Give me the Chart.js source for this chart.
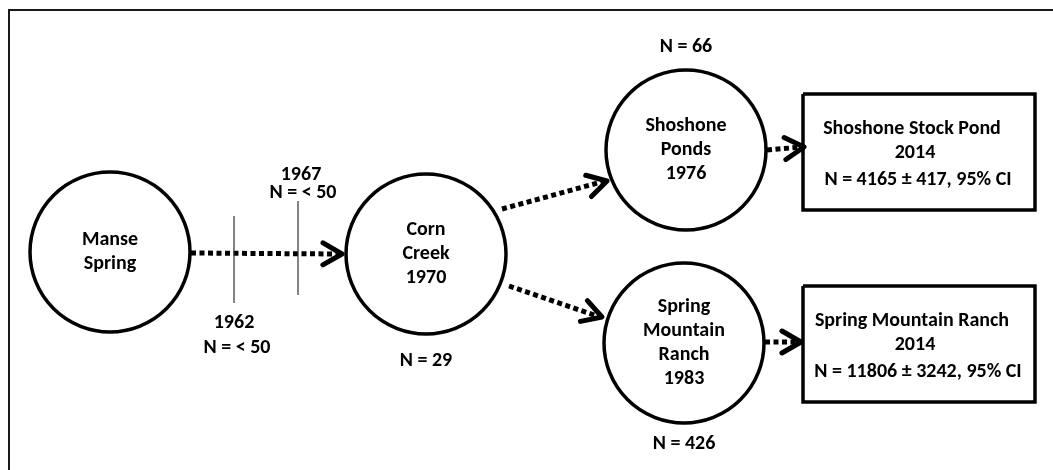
<!DOCTYPE html>
<html>
<head>
<meta charset="utf-8">
<script src="https://cdn.jsdelivr.net/npm/chart.js@4.4.1/dist/chart.umd.min.js"></script>
<style>
  html, body { margin: 0; padding: 0; background: #fff; }
  #wrap { width: 1053px; height: 470px; }
</style>
</head>
<body>
<div id="wrap"><canvas id="flowChart" width="1053" height="470"></canvas></div>
<script>
// Population nodes (circles): label lines, centre, radius, count label
const nodeLabels = [['Manse', 'Spring'], ['Corn', 'Creek', '1970'], ['Shoshone', 'Ponds', '1976'], ['Spring', 'Mountain', 'Ranch', '1983']];
const nodeX = [110, 426, 686, 684];
const nodeY = [252, 254, 150, 343];
const nodeR = [80, 80, 80, 80];
const nodeCounts = ['', 'N = 29', 'N = 66', 'N = 426'];
const nodeCountY = [0, 361, 47, 444];

// 2014 survey boxes
const boxTitles = ['Shoshone Stock Pond', 'Spring Mountain Ranch'];
const boxYears = ['2014', '2014'];
const boxEstimates = ['N = 4165 \u00b1 417, 95% CI', 'N = 11806 \u00b1 3242, 95% CI'];
const boxLeft = [803, 803];
const boxRight = [1035, 1035];
const boxTop = [94, 286];
const boxBottom = [210, 402];

// Translocation arrows: start and tip
const arrowFromX = [191, 502, 509, 767, 765];
const arrowFromY = [253, 209, 286, 150, 342];
const arrowToX = [342, 607, 602, 804, 801];
const arrowToY = [254, 181, 317, 147, 342];

// Intermediate markers on the first arrow
const markerYears = ['1962', '1967'];
const markerCounts = ['N = < 50', 'N = < 50'];
const markerX = [234, 298];
const markerTop = [216, 201];
const markerBottom = [303, 295];

const FONT = 'bold 20px Carlito, Lato, sans-serif';

function pt(x, y) { return { x: x, y: y }; }

// chevron arms for an arrow tip
function headPoints(i) {
  const dx = arrowToX[i] - arrowFromX[i];
  const dy = arrowToY[i] - arrowFromY[i];
  const len = Math.sqrt(dx * dx + dy * dy);
  const ux = dx / len, uy = dy / len;
  const L = 22, a = 30 * Math.PI / 180;
  const c = Math.cos(a), s = Math.sin(a);
  const ax = ux * c - uy * s, ay = ux * s + uy * c;
  const bx = ux * c + uy * s, by = -ux * s + uy * c;
  return [
    pt(arrowToX[i] - L * ax, arrowToY[i] - L * ay),
    pt(arrowToX[i], arrowToY[i]),
    pt(arrowToX[i] - L * bx, arrowToY[i] - L * by)
  ];
}

const datasets = [];

// outer frame (top and left edge only)
datasets.push({
  data: [pt(9, 470), pt(9, 10), pt(1053, 10)],
  showLine: true, borderColor: '#1a1a1a', borderWidth: 2, pointRadius: 0,
  borderJoinStyle: 'miter', order: 10
});

// dotted arrow shafts
arrowFromX.forEach((x, i) => {
  datasets.push({
    data: [pt(x, arrowFromY[i]), pt(arrowToX[i] - 2, arrowToY[i])],
    showLine: true, borderColor: '#000', borderWidth: 5, borderDash: [5, 3.5],
    borderCapStyle: 'butt', pointRadius: 0, order: 8
  });
});

// thin marker lines
markerX.forEach((x, i) => {
  datasets.push({
    data: [pt(x, markerTop[i]), pt(x, markerBottom[i])],
    showLine: true, borderColor: '#333', borderWidth: 1.2, pointRadius: 0, order: 7
  });
});

// population circles
datasets.push({
  data: nodeX.map((x, i) => pt(x, nodeY[i])),
  showLine: false, pointStyle: 'circle', pointRadius: nodeR,
  pointBackgroundColor: '#fff', pointBorderColor: '#000', pointBorderWidth: 3.5,
  order: 5
});

// survey boxes
boxLeft.forEach((x0, i) => {
  const x1 = boxRight[i], y0 = boxTop[i], y1 = boxBottom[i];
  datasets.push({
    data: [pt(x0, y0), pt(x1, y0), pt(x1, y1), pt(x0, y1), pt(x0, y0)],
    showLine: true, borderColor: '#000', borderWidth: 3.5, borderJoinStyle: 'miter',
    backgroundColor: '#fff', fill: true, pointRadius: 0, order: 4
  });
});

// arrow heads
arrowToX.forEach((x, i) => {
  datasets.push({
    data: headPoints(i),
    showLine: true, borderColor: '#000', borderWidth: 5,
    borderCapStyle: 'round', borderJoinStyle: 'round', pointRadius: 0, order: 1
  });
});

// text labels drawn at data positions
const labelPlugin = {
  id: 'labels',
  afterDatasetsDraw(chart) {
    const ctx = chart.ctx;
    const sx = chart.scales.x, sy = chart.scales.y;
    const X = v => sx.getPixelForValue(v);
    const Y = v => sy.getPixelForValue(v);
    ctx.save();
    ctx.font = FONT;
    ctx.fillStyle = '#000';
    ctx.textAlign = 'center';
    ctx.textBaseline = 'middle';
    const lh = 24;
    nodeLabels.forEach((lines, i) => {
      const y0 = nodeY[i] - (lines.length - 1) * lh / 2;
      lines.forEach((t, k) => ctx.fillText(t, X(nodeX[i]), Y(y0 + k * lh)));
      if (nodeCounts[i]) ctx.fillText(nodeCounts[i], X(nodeX[i]), Y(nodeCountY[i]));
    });
    boxTitles.forEach((t, i) => {
      const cx = (boxLeft[i] + boxRight[i]) / 2;
      const cy = (boxTop[i] + boxBottom[i]) / 2;
      ctx.fillText(t, X(cx - 7), Y(cy - 23));
      ctx.fillText(boxYears[i], X(cx - 4), Y(cy + 1));
      ctx.fillText(boxEstimates[i], X(cx - 1), Y(cy + 28));
    });
    // 1962 below its marker, 1967 above its marker
    ctx.fillText(markerYears[0], X(markerX[0]), Y(markerBottom[0] + 20));
    ctx.fillText(markerCounts[0], X(markerX[0] + 3), Y(markerBottom[0] + 45));
    ctx.fillText(markerYears[1], X(markerX[1] + 3), Y(markerTop[1] - 26));
    ctx.fillText(markerCounts[1], X(markerX[1] + 5), Y(markerTop[1] - 8));
    ctx.restore();
  }
};

new Chart(document.getElementById('flowChart'), {
  type: 'scatter',
  data: { datasets: datasets },
  options: {
    responsive: false,
    animation: false,
    events: [],
    layout: { padding: 0, autoPadding: false },
    clip: false,
    elements: { line: { tension: 0 } },
    scales: {
      x: { type: 'linear', min: 0, max: 1053, display: false },
      y: { type: 'linear', min: 0, max: 470, reverse: true, display: false }
    },
    plugins: { legend: { display: false }, tooltip: { enabled: false }, title: { display: false } }
  },
  plugins: [labelPlugin]
});
</script>
</body>
</html>
